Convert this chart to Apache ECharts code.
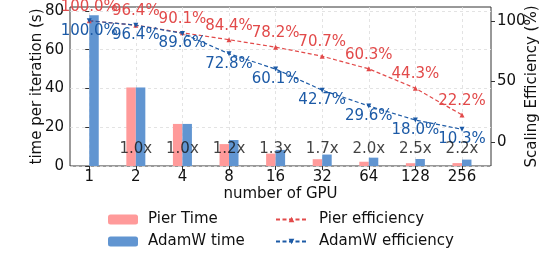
<!DOCTYPE html>
<html><head><meta charset="utf-8">
<script src="https://cdn.jsdelivr.net/npm/echarts@6/dist/echarts.min.js"></script>
<style>html,body{margin:0;padding:0;background:#fff}#c{width:548px;height:255px}</style>
</head><body><div id="c"></div>
<script>
const gpuLabels = ['1', '2', '4', '8', '16', '32', '64', '128', '256'];
const pierTime = [null, 40.5, 21.7, 11.3, 6.4, 3.5, 2.2, 1.45, 1.5];
const adamwTime = [77.8, 40.5, 21.7, 13.4, 8.3, 5.9, 4.3, 3.6, 3.3];
const pierEff = [100.0, 96.4, 90.1, 84.4, 78.2, 70.7, 60.3, 44.3, 22.2];
const adamwEff = [100.0, 96.4, 89.6, 72.8, 60.1, 42.7, 29.6, 18.0, 10.3];
const speedupLabels = ['', '1.0x', '1.0x', '1.2x', '1.3x', '1.7x', '2.0x', '2.5x', '2.2x'];
const leftTicks = [0, 20, 40, 60, 80];
const rightTicks = [0, 50, 100];

const FONT = 'DejaVu Sans';
const FS = 15;
const C_PINK = '#ff9a9a', C_BLUE = '#6195d1', C_RED = '#e24a4a', C_DBLUE = '#1c5aa6';
const idx = gpuLabels.map((_, i) => i);
const pts = arr => arr.map((v, i) => [i, v == null ? '-' : v]);

const chart = echarts.init(document.getElementById('c'));
chart.setOption({
  animation: false,
  textStyle: { fontFamily: FONT },
  grid: { left: 70, right: 56, top: 7, bottom: 89, show: true, borderColor: '#333', borderWidth: 1, backgroundColor: 'transparent' },
  xAxis: {
    type: 'value', min: -0.413, max: 8.623,
    axisLine: { show: false },
    axisTick: { show: true, customValues: idx, length: 4, lineStyle: { color: '#333' } },
    axisLabel: { customValues: idx, formatter: v => gpuLabels[Math.round(v)], fontSize: FS, color: '#111', margin: 4, fontFamily: FONT },
    splitLine: { show: true, lineStyle: { type: [3, 3], color: '#dcdcdc', width: 0.8 } },
    name: 'number of GPU', nameLocation: 'middle', nameGap: 21, nameMoveOverlap: false,
    nameTextStyle: { fontSize: FS, color: '#111', fontFamily: FONT }
  },
  yAxis: [{
    type: 'value', min: 0, max: 82,
    axisLine: { show: false },
    axisTick: { show: true, customValues: leftTicks, length: 4, lineStyle: { color: '#333' } },
    axisLabel: { customValues: leftTicks, fontSize: FS, color: '#111', margin: 6, fontFamily: FONT },
    splitLine: { show: true, lineStyle: { type: [3, 3], color: '#dcdcdc', width: 0.8 } },
    name: 'time per iteration (s)', nameLocation: 'middle', nameGap: 25, nameRotate: 90, nameMoveOverlap: false,
    nameTextStyle: { fontSize: FS, color: '#111', fontFamily: FONT }
  }, {
    type: 'value', min: -20, max: 111.4, position: 'right',
    axisLine: { show: false },
    axisTick: { show: true, customValues: rightTicks, length: 4, lineStyle: { color: '#333' } },
    axisLabel: { customValues: rightTicks, fontSize: FS, color: '#111', margin: 6, fontFamily: FONT },
    splitLine: { show: false },
    name: 'Scaling Efficiency (%)', nameLocation: 'middle', nameGap: 34, nameRotate: 90, nameMoveOverlap: false,
    nameTextStyle: { fontSize: FS, color: '#111', fontFamily: FONT }
  }],
  legend: [{
    data: ['Pier Time', 'AdamW time'], orient: 'vertical', left: 103, top: 207,
    itemWidth: 30, itemHeight: 10, itemGap: 7,
    textStyle: { fontSize: FS, color: '#111', fontFamily: FONT, padding: [0, 0, 0, 5] }
  }, {
    data: ['Pier efficiency', 'AdamW efficiency'], orient: 'vertical', left: 270, top: 207,
    itemWidth: 31, itemHeight: 7, itemGap: 7,
    textStyle: { fontSize: FS, color: '#111', fontFamily: FONT, padding: [0, 0, 0, 7] }
  }],
  series: [{
    name: 'Pier Time', type: 'bar', data: pts(pierTime), barWidth: 9.5, barGap: '0%',
    itemStyle: { color: C_PINK }
  }, {
    name: 'AdamW time', type: 'bar', data: pts(adamwTime), barWidth: 9.5, barGap: '0%',
    itemStyle: { color: C_BLUE }
  }, {
    name: 'Pier efficiency', type: 'line', yAxisIndex: 1, data: pts(pierEff),
    symbol: 'triangle', symbolSize: 5,
    lineStyle: { color: C_RED, width: 1.2, type: [4, 2.5] }, itemStyle: { color: C_RED },
    label: { show: true, position: 'top', distance: 4, fontSize: FS, color: C_RED, fontFamily: FONT,
      formatter: p => pierEff[p.dataIndex].toFixed(1) + '%' },
    z: 4
  }, {
    name: 'AdamW efficiency', type: 'line', yAxisIndex: 1, data: pts(adamwEff),
    symbol: 'triangle', symbolRotate: 180, symbolSize: 5,
    lineStyle: { color: C_DBLUE, width: 1.2, type: [4, 2.5] }, itemStyle: { color: C_DBLUE },
    label: { show: true, position: 'bottom', distance: 0, fontSize: FS, color: C_DBLUE, fontFamily: FONT,
      formatter: p => adamwEff[p.dataIndex].toFixed(1) + '%' },
    z: 4
  }, {
    name: 'speedup', type: 'scatter', silent: true, symbolSize: 0,
    data: idx.map(i => [i, 8.8]),
    label: { show: true, position: 'inside', fontSize: FS, color: '#111', fontFamily: FONT,
      formatter: p => speedupLabels[p.dataIndex] },
    z: 5
  }]
});
</script></body></html>
